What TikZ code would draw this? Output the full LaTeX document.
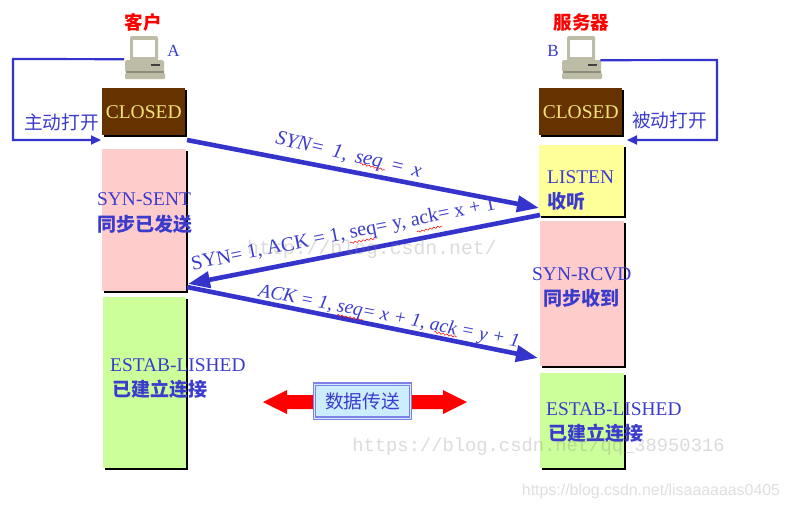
\documentclass[tikz,border=0pt]{standalone}
\usepackage{fontspec}
\setmainfont{Liberation Serif}
\newfontfamily\cjk{Noto Sans CJK SC}
\newfontfamily\wmono{Liberation Mono}
\newfontfamily\wsans{Liberation Sans}
\usetikzlibrary{arrows.meta,shadows,decorations.pathmorphing}
\newcommand{\fz}[1]{\fontsize{#1}{#1}\selectfont}
\definecolor{tblue}{HTML}{3B3BCC}
\definecolor{lineblue}{HTML}{3434CC}
\definecolor{brownbox}{HTML}{663300}
\definecolor{pinkbox}{HTML}{FFCCCC}
\definecolor{greenbox}{HTML}{CCFF99}
\definecolor{yellowbox}{HTML}{FFFF99}
\definecolor{pcbody}{HTML}{BDBCA6}
\definecolor{pcdark}{HTML}{8F8E7C}
\definecolor{databox}{HTML}{CCECFF}
\definecolor{databorder}{HTML}{8080E6}
\definecolor{closedtext}{HTML}{F2E27A}
\tikzset{
  statebox/.style={anchor=north west,inner sep=0pt,minimum width=#1,
    drop shadow={shadow xshift=2pt,shadow yshift=-2pt,fill=black,opacity=1}},
  closedbox/.style={statebox=83pt,minimum height=47pt,fill=brownbox,
    text=closedtext,font=\fz{19.5}},
  ltxt/.style={anchor=west,inner sep=0pt,text=tblue,font=\fz{19.4}},
  ctxt/.style={anchor=west,inner sep=0pt,text=tblue,font=\cjk\bfseries\fz{19}},
  ntxt/.style={anchor=west,inner sep=0pt,text=tblue,font=\cjk\fz{18.7}},
  head/.style={inner sep=0pt,text=red,font=\cjk\bfseries\fz{18.5}},
  msg/.style={inner sep=0pt,text=tblue},
  bigarrow/.style={draw=lineblue,line width=4.6pt,-{Triangle[length=22pt,width=16pt]}},
  link/.style={draw=lineblue,line width=2.2pt,-{Triangle[length=10pt,width=9pt]}},
  squig/.style={draw=red,line width=.5pt,decorate,decoration={snake,amplitude=.9pt,segment length=4pt}},
  wm/.style={inner sep=0pt,text=gray,opacity=.28},
  pcnode/.style={anchor=north west,inner sep=0pt,minimum width=41pt,minimum height=46pt}
}
\newcommand{\pcicon}[1]{%
  \begin{scope}[xshift=#1pt]
    \fill[pcbody,rounded corners=1.5pt] (130,36) rectangle (158,61);
    \fill[white] (133,40) rectangle (155,57);
    \fill[pcdark] (130,60) rectangle (158,62);
    \fill[pcbody,rounded corners=1.5pt] (125,60) rectangle (164,72);
    \fill[black!75] (151,64) rectangle (160,65.5);
    \fill[pcdark] (126,71) rectangle (164,73);
    \fill[pcbody,rounded corners=1pt] (125,73) rectangle (165,79);
  \end{scope}}
\begin{document}
\begin{tikzpicture}[x=1pt,y=-1pt]
\useasboundingbox (0,0) rectangle (789,509);
\fill[white] (0,0) rectangle (789,509);

% computers
\pcicon{0}
\pcicon{437}
\node[pcnode] (pcA) at (124,36) {};
\node[pcnode] (pcB) at (561,36) {};
\node[head,anchor=center] (kehu) at (143,22) {客户};
\node[head,anchor=center] (fwq) at (581.5,22) {服务器};
\node[anchor=center,inner sep=0pt,text=tblue,font=\fz{17}] (nameA) at (173.5,51) {A};
\node[anchor=center,inner sep=0pt,text=tblue,font=\fz{17}] (nameB) at (553,51) {B};

% state boxes
\node[closedbox] (closedA) at (102,88) {CLOSED};
\node[closedbox] (closedB) at (539,88) {CLOSED};
\node[statebox=84pt,minimum height=142pt,fill=pinkbox] (sent) at (102,149) {};
\node[statebox=83pt,minimum height=171pt,fill=greenbox] (estA) at (103,297) {};
\node[statebox=85pt,minimum height=71pt,fill=yellowbox] (listen) at (539,145) {};
\node[statebox=84pt,minimum height=145pt,fill=pinkbox] (rcvd) at (540,221) {};
\node[statebox=84pt,minimum height=95pt,fill=greenbox] (estB) at (540,373) {};

% state labels
\node[ltxt] (l1) at (97,199) {SYN-SENT};
\node[ctxt] (l2) at (97,224) {同步已发送};
\node[ltxt] (l3) at (110,365) {ESTAB-LISHED};
\node[ctxt] (l4) at (112,389) {已建立连接};
\node[ltxt] (l5) at (547,177) {LISTEN};
\node[ctxt] (l6) at (547,201) {收听};
\node[ltxt] (l7) at (532,274) {SYN-RCVD};
\node[ctxt] (l8) at (543,298) {同步收到};
\node[ltxt] (l9) at (546,409) {ESTAB-LISHED};
\node[ctxt] (l10) at (548,433) {已建立连接};
\node[ntxt] (zd) at (24,122) {主动打开};
\node[ntxt] (bd) at (632,120) {被动打开};

% open connectors
\coordinate (cA1) at (13,59);
\coordinate (cA2) at (13,140);
\coordinate (cA3) at (101,140);
\coordinate (cB1) at (717,60);
\coordinate (cB2) at (717,140);
\coordinate (cB3) at (627,140);
\draw[link] (pcA.west) -- (cA1) -- (cA2) -- (cA3);
\draw[link] (pcB.east) ++(-2,1) -- (cB1) -- (cB2) -- (cB3);

% handshake arrows
\coordinate (s1) at (187,140);
\coordinate (e1) at (539,208);
\coordinate (s2) at (540,215);
\coordinate (e2) at (188,284);
\coordinate (s3) at (187,287);
\coordinate (e3) at (538,358);
\draw[bigarrow] (s1) -- (e1);
\draw[bigarrow] (s2) -- (e2);
\draw[bigarrow] (s3) -- (e3);

% spelling squiggles
\draw[squig] (360,163.5) -- (385,170);
\draw[squig] (350,243) -- (377,238);
\draw[squig] (417,232) -- (442,226);
\draw[squig] (337,315) -- (363,320);
\draw[squig] (434,332) -- (457,337);

% message labels
\node[msg,rotate=-13,font=\itshape\fz{20.5}] (m1) at (348.5,156) {\spaceskip=8.5pt SYN= 1, seq = x};
\node[msg,rotate=11.3,font=\fz{20.2}] (m2) at (343.5,235) {SYN= 1, ACK = 1, seq= y, ack= x + 1};
\node[msg,rotate=-11,font=\itshape\fz{19.4}] (m3) at (389,317) {ACK = 1, seq= x + 1, ack = y + 1};

% data transfer
\fill[red] (263,402) -- (287,390) -- (287,395) -- (443,395) -- (443,390) -- (467,402)
  -- (443,414) -- (443,409) -- (287,409) -- (287,414) -- cycle;
\node[anchor=center,minimum width=96pt,minimum height=34pt,inner sep=0pt,
  fill=databox,draw=databorder,line width=1.4pt,double=databox,
  double distance=.7pt,text=tblue,font=\cjk\fz{18.7}] (data) at (362.5,401) {数据传送};

% watermarks
\node[wm,anchor=center,font=\wmono\fz{19.8}] (w1) at (372,249) {http://blog.csdn.net/};
\node[wm,anchor=center,font=\wmono\fz{18.8}] (w2) at (538.5,447) {https://blog.csdn.net/qq\_38950316};
\node[wm,anchor=center,opacity=.25,font=\wsans\fz{15.9}] (w3) at (651,491) {https://blog.csdn.net/lisaaaaaas0405};
\end{tikzpicture}
\end{document}
